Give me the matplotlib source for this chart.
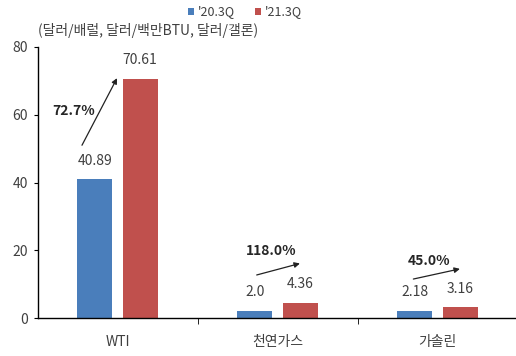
import matplotlib.pyplot as plt
import numpy as np

plt.rcParams['font.family'] = ['Noto Sans CJK KR', 'DejaVu Sans']

# data
categories = ['WTI', '천연가스', '가솔린']
q3_2020 = [40.89, 2.0, 2.18]
q3_2021 = [70.61, 4.36, 3.16]
labels_2020 = ['40.89', '2.0', '2.18']
labels_2021 = ['70.61', '4.36', '3.16']
growth = ['72.7%', '118.0%', '45.0%']
series_names = ["'20.3Q", "'21.3Q"]
unit_text = '(달러/배럴, 달러/백만BTU, 달러/갤론)'

blue = '#4a7ebb'
red = '#c0504d'
txt = '#404040'

fig = plt.figure(figsize=(5.16, 3.56), dpi=100)
ax = fig.add_axes([37.5 / 516, 38 / 356, 480 / 516, 271 / 356])

x = np.arange(len(categories))
w = 0.22
off = 0.142
b1 = ax.bar(x - off, q3_2020, w, color=blue)
b2 = ax.bar(x + off, q3_2021, w, color=red)

# value labels above bars
for xi, v, s in zip(x - off, q3_2020, labels_2020):
    ax.annotate(s, (xi, v), xytext=(0, 13.5), textcoords='offset points',
                ha='center', va='center', fontsize=10, color=txt)
for xi, v, s in zip(x + off, q3_2021, labels_2021):
    ax.annotate(s, (xi, v), xytext=(0, 13.5), textcoords='offset points',
                ha='center', va='center', fontsize=10, color=txt)

# growth arrows (start/end points relative to each category)
arrow_start = [(-0.222, 51.0), (-0.13, 12.7), (-0.151, 11.5)]
arrow_end = [(-0.003, 70.8), (0.14, 16.1), (0.14, 14.5)]
text_pos = [(-0.272, 61.1), (-0.041, 19.8), (-0.053, 16.8)]
for i, g in enumerate(growth):
    sx, sy = arrow_start[i]
    ex, ey = arrow_end[i]
    ax.annotate('', xy=(i + ex, ey), xytext=(i + sx, sy),
                arrowprops=dict(arrowstyle='-|>', color='#222222', lw=0.9,
                                mutation_scale=8, shrinkA=0, shrinkB=0))
    tx, ty = text_pos[i]
    ax.text(i + tx, ty, g, ha='center', va='center', fontsize=10,
            fontweight='bold', color='#262626')

ax.set_xlim(-0.5, 2.5)
ax.set_ylim(0, 80)
ax.set_yticks([0, 20, 40, 60, 80])
ax.set_xticks(x)
ax.set_xticklabels(categories)
ax.set_xticks([0.5, 1.5], minor=True)
ax.tick_params(axis='x', which='major', length=0, pad=12, labelsize=10, labelcolor=txt)
ax.tick_params(axis='x', which='minor', length=4, direction='out')
ax.tick_params(axis='y', length=3, direction='out', labelsize=10, labelcolor=txt, pad=4)
for s in ['top', 'right']:
    ax.spines[s].set_visible(False)
ax.spines['left'].set_linewidth(1.0)
ax.spines['bottom'].set_linewidth(1.0)

fig.text(38 / 516, 1 - 31 / 356, unit_text, ha='left', va='center',
         fontsize=10, color=txt)

fig.legend([b1, b2], series_names, loc='center left',
           bbox_to_anchor=(188 / 516, 1 - 12 / 356), ncol=2, frameon=False,
           fontsize=9, handlelength=0.5, handleheight=0.5, handletextpad=0.3,
           columnspacing=1.6, labelcolor=txt, borderaxespad=0, borderpad=0)

fig.savefig('out.png', dpi=100)
